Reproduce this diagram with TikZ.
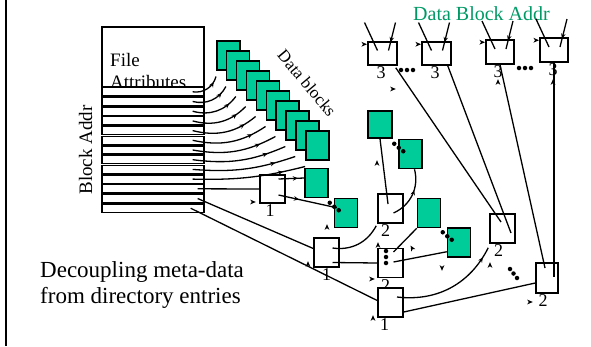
\documentclass[tikz,border=0pt]{standalone}
\usepackage{fontspec}
\setmainfont{Liberation Serif}
\usetikzlibrary{arrows.meta}
\usetikzlibrary{decorations.markings,calc}
\definecolor{blockgreen}{RGB}{0,204,153}
\definecolor{addrgreen}{RGB}{0,153,102}
\tikzset{
  inode/.style={
    x=1pt, y=-1pt,
    stripe/.style={draw, line width=1.3pt, fill=white, minimum width=102pt, minimum height=8.2pt, inner sep=0pt},
    ptr box/.style={draw, line width=1.5pt, fill=white, minimum width=25pt, minimum height=29pt, inner sep=0pt},
    data box/.style={draw, line width=1.5pt, fill=blockgreen, minimum width=23pt, minimum height=29pt, inner sep=0pt},
    ptr/.style={line width=1.3pt},
    ptr tip/.style={postaction={decorate}, decoration={markings, mark=at position ##1 with {\arrow{Stealth[length=5pt,width=4.5pt]}}}},
    levelno/.style={font=\fontsize{18}{18}\selectfont, inner sep=1pt},
    blob/.style={circle, fill, inner sep=0pt, minimum size=4.5pt},
    big text/.style={font=\fontsize{19}{22}\selectfont, inner sep=0pt},
  },
}
\newcommand{\loosetip}[2]{% point, angle
  \fill[shift={#1}, rotate=#2] (2.8,0) -- (-2.8,2.4) -- (-1.2,0) -- (-2.8,-2.4) -- cycle;
}

\begin{document}
\begin{tikzpicture}[inode]
\useasboundingbox (0,0) rectangle (591,346);
\draw[line width=2pt] (6,0) -- (6,346);

% the inode: attributes and block address slots
\node[draw, line width=1.3pt, minimum width=102pt, minimum height=60pt, inner sep=0pt] (attr) at (153,57) {};
\node[big text, anchor=base west] (fileTxt) at (110,66) {File};
\node[big text, anchor=base west] (attrTxt) at (110,88) {Attributes};
\node[big text, rotate=90, anchor=base] (addrTxt) at (92,150) {Block Addr};
\foreach \i in {0,...,12}
  \node[stripe] (s\i) at (153,91.8+9.7*\i) {};

% direct data blocks
\foreach \i in {0,...,9}
  \node[data box, anchor=north west] (d\i) at (216+9.9*\i,40+10*\i) {};
\node[rotate=-50, font=\fontsize{17}{17}\selectfont, inner sep=0pt] (blkTxt) at (307,83) {Data blocks};

% indirect blocks
\node[ptr box, minimum width=29pt, minimum height=23pt, label={[levelno, xshift=-1.5pt]below:3}] (A3) at (382.5,53.5) {};
\node[ptr box, minimum width=29pt, minimum height=23pt, label={[levelno, xshift=-1.5pt]below:3}] (B3) at (436.5,53.5) {};
\node[ptr box, minimum width=28pt, minimum height=24pt, label={[levelno, xshift=-2pt]below:3}] (C3) at (500,52) {};
\node[ptr box, minimum width=28pt, minimum height=24pt, label={[levelno, xshift=-1pt]below:3}] (D3) at (554,50) {};
\node[ptr box, label={[levelno, xshift=-5pt]below:2}] (Z2) at (390.5,208.5) {};
\node[ptr box, label={[levelno, xshift=-5pt]below:2}] (P2) at (390.5,263) {};
\node[ptr box, label={[levelno, xshift=-4pt]below:2}] (M2) at (502.5,228.5) {};
\node[ptr box, minimum width=22pt, minimum height=30pt, label={[levelno, xshift=-4pt]below:2}] (R2) at (547,278) {};
\node[ptr box, minimum height=28pt, label={[levelno, xshift=-2.5pt]below:1}] (L1) at (272.5,189) {};
\node[ptr box, label={[levelno]below:1}] (K1) at (326.5,252.5) {};
\node[ptr box, label={[levelno, xshift=-6pt]below:1}] (B1) at (390.5,302.5) {};

% data blocks reached through them
\node[data box, minimum width=24pt, minimum height=27pt] (G1) at (380,124.5) {};
\node[data box] (G2) at (410.5,154) {};
\node[data box] (G3) at (316.5,183) {};
\node[data box] (G4) at (346,213) {};
\node[data box] (G5) at (429,213) {};
\node[data box] (G6) at (459,242.5) {};
\foreach \g in {G2,G4,G6}
  \foreach \dx/\dy [count=\k] in {-4/5,0.5/9,5/12.5}
    \node[blob] (\g dot\k) at ($(\g.north west)+(\dx,\dy)$) {};
\foreach \dy [count=\k] in {-12,-6,0}
  \node[blob] (P2dot\k) at ($(P2.center)+(-4.5,\dy)$) {};
\foreach \x [count=\k] in {401,407,413}
  \node[blob] (gapA\k) at (\x,70) {};
\foreach \x [count=\k] in {519,525,531}
  \node[blob] (gapB\k) at (\x,68) {};
\foreach \x/\y [count=\k] in {510/269,513.5/273.5,517/278}
  \node[blob] (gapC\k) at (\x,\y) {};
\node[text=addrgreen, font=\fontsize{20}{20}\selectfont, anchor=base, inner sep=0pt] (dbaTxt) at (481.5,20) {Data Block Addr};

% pointers from the slots
\foreach \i in {0,...,9}{
  \pgfmathsetmacro{\bnd}{42-3.8*\i}
  \draw[ptr, ptr tip=0.8] ($(s\i.east)+(-12,0)$) to[bend right=\bnd] ($(d\i.south west)+(0,6)$);
}
\draw[ptr] ($(s10.east)+(-7,0)$) -- (L1.west);
\draw[ptr] ($(s11.east)+(-7,0)$) -- ($(K1.west)+(0,-4)$);
\draw[ptr] ($(s12.east)+(-14,0)$) -- ($(B1.west)+(0,-2)$);

% pointers between blocks
\draw[ptr, ptr tip=0.75] ($(L1.center)+(6,-10)$) -- ($(G3.west)+(0,-5)$);
\draw[ptr, ptr tip=0.35] ($(L1.center)+(6,6)$) -- ($(G4.north west)+(3,10)$);
\draw[ptr] ($(K1.center)+(6,-4.5)$) to[bend right=35] ($(Z2.south west)+(-1,2)$);
\draw[ptr] ($(K1.center)+(6,10)$) -- (P2.west);
\draw[ptr] ($(P2.center)+(3,-11)$) -- (G5.south west);
\draw[ptr] ($(P2.center)+(3,-1)$) -- ($(G6.south west)+(0,-6)$);
\draw[ptr] (G1.south) -- ($(Z2.center)+(-2.5,-4.5)$);
\draw[ptr, ptr tip=0.6] ($(Z2.center)+(3,4.5)$) to[bend right=40] ($(G2.south)+(4,0)$);
\draw[ptr, ptr tip=0.9] ($(B1.center)+(6.5,-5.5)$) to[bend right=35] ($(M2.south west)+(-1,4)$);
\draw[ptr] ($(B1.east)+(0,9.5)$) -- ($(R2.west)+(0,5)$);
\draw[ptr] ($(A3.south east)+(-2,2)$) -- ($(M2.center)+(-1.5,-6.5)$);
\draw[ptr] ($(B3.south east)+(-4,0)$) -- ($(M2.center)+(8.5,4.5)$);
\draw[ptr] (C3.south) -- ($(R2.center)+(-2,-10)$);
\draw[ptr] (D3.south) -- ($(R2.center)+(7,-1)$);
\foreach \b in {A3,B3,C3,D3}{
  \draw[ptr] ($(\b.center)+(-18,-31)$) -- ($(\b.center)+(-5,-3)$);
  \draw[ptr, ptr tip=0.7] ($(\b.center)+(13,-31)$) -- ($(\b.center)+(6,-3)$);
  \loosetip{($(\b.north west)+(-3,3)$)}{0}
}

% stray arrow tips
\foreach \x/\y/\a in {393/89/0, 498/82/90, 553/82/90, 377/163/90, 253/202/0, 327/227/90,
    308/264/90, 378/245/90, 372/279/0, 412/248/120, 442/268/-90, 490/265/90, 530/302/0, 373/318/90}{
  \loosetip{(\x,\y)}{\a}
}

% caption
\node[font=\fontsize{23}{26}\selectfont, anchor=base west, inner sep=0pt] (capA) at (40,277) {Decoupling meta-data};
\node[font=\fontsize{23}{26}\selectfont, anchor=base west, inner sep=0pt] (capB) at (40,303) {from directory entries};
\end{tikzpicture}
\end{document}
